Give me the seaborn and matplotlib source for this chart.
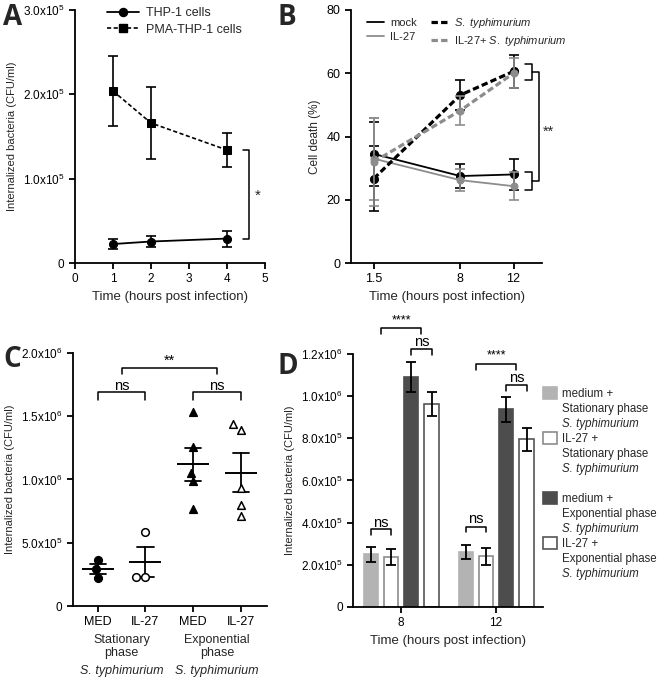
import numpy as np
import pandas as pd
import seaborn as sns
import matplotlib.pyplot as plt
from matplotlib.lines import Line2D
from matplotlib.patches import Patch
from matplotlib.transforms import blended_transform_factory

# ---- panel A: internalized bacteria, THP-1 vs PMA-THP-1
a_time = [1, 2, 4]
a_thp1 = [2.25e4, 2.55e4, 2.9e4]
a_thp1_err = [6e3, 7e3, 9.5e3]
a_pma = [2.04e5, 1.66e5, 1.34e5]
a_pma_err = [4.2e4, 4.3e4, 2.05e4]
a_yticks = [0, 1e5, 2e5, 3e5]
a_yticklabels = ["0", "1.0x10$^5$", "2.0x10$^5$", "3.0x10$^5$"]

# ---- panel B: cell death
b_time = [1.5, 8, 12]
b_mock = [34.5, 27.5, 28.0]
b_mock_err = [10.2, 3.7, 5.0]
b_il27 = [33.0, 26.2, 24.3]
b_il27_err = [13.0, 3.5, 4.5]
b_styph = [26.7, 53.1, 60.6]
b_styph_err = [10.3, 4.7, 5.2]
b_il27_styph = [32.0, 48.2, 60.0]
b_il27_styph_err = [14.0, 4.7, 4.8]

# ---- panel C: single replicates
c_order = ["MED_stat", "IL27_stat", "MED_exp", "IL27_exp"]
c_ticklabels = ["MED", "IL-27", "MED", "IL-27"]
c_med_stat = [3.64e5, 2.90e5, 2.19e5]
c_il27_stat = [5.88e5, 2.32e5, 2.32e5]
c_med_exp = [1.53e6, 1.26e6, 1.055e6, 0.984e6, 0.765e6]
c_il27_exp = [1.438e6, 1.393e6, 0.931e6, 0.80e6, 0.712e6]
c_yticks = [0, 5e5, 1e6, 1.5e6, 2e6]
c_yticklabels = ["0", "5.0x10$^5$", "1.0x10$^6$", "1.5x10$^6$", "2.0x10$^6$"]

# ---- panel D: bars
d_time = ["8", "12"]
d_groups = ["medium + Stationary", "IL-27 + Stationary",
            "medium + Exponential", "IL-27 + Exponential"]
d_med_stat = [2.50e5, 2.61e5]
d_med_stat_err = [3.6e4, 3.5e4]
d_il27_stat = [2.37e5, 2.41e5]
d_il27_stat_err = [3.7e4, 4.0e4]
d_med_exp = [1.092e6, 0.937e6]
d_med_exp_err = [7.0e4, 6.0e4]
d_il27_exp = [0.962e6, 0.796e6]
d_il27_exp_err = [5.8e4, 5.4e4]
d_yticks = [0, 2e5, 4e5, 6e5, 8e5, 1e6, 1.2e6]
d_yticklabels = ["0", "2.0x10$^5$", "4.0x10$^5$", "6.0x10$^5$",
                 "8.0x10$^5$", "1.0x10$^6$", "1.2x10$^6$"]

sns.set_theme(style="ticks")
plt.rcParams["font.family"] = ["Liberation Sans", "DejaVu Sans"]
plt.rcParams["mathtext.fontset"] = "custom"
plt.rcParams["mathtext.rm"] = "Liberation Sans"
plt.rcParams["mathtext.it"] = "Liberation Sans:italic"
plt.rcParams["axes.linewidth"] = 1.3
plt.rcParams["axes.edgecolor"] = "black"
plt.rcParams["xtick.major.width"] = 1.3
plt.rcParams["ytick.major.width"] = 1.3
plt.rcParams["xtick.major.size"] = 4
plt.rcParams["ytick.major.size"] = 4
plt.rcParams["xtick.color"] = "black"
plt.rcParams["ytick.color"] = "black"

GRAY = "#8c8c8c"
ylab = "Internalized bacteria (CFU/ml)"


def bracket(ax, x1, x2, y, h, text, ty, fs=10.5):
    ax.plot([x1, x1, x2, x2], [y - h, y, y, y - h], color="black", lw=1.1,
            clip_on=False)
    ax.text((x1 + x2) / 2, ty, text, ha="center", va="center", fontsize=fs,
            color="black", clip_on=False)


fig = plt.figure(figsize=(6.6, 6.8), dpi=100)
axA = fig.add_axes([0.1136, 0.6132, 0.2879, 0.3721])
axB = fig.add_axes([0.532, 0.6132, 0.2894, 0.3721])
axC = fig.add_axes([0.1106, 0.1088, 0.2939, 0.3722])
axD = fig.add_axes([0.535, 0.1074, 0.2879, 0.3720])

# ================= A
sns.lineplot(x=a_time, y=a_thp1, color="black", marker="o", markersize=5.8,
             markeredgecolor="black", linewidth=1.3, ax=axA)
sns.lineplot(x=a_time, y=a_pma, color="black", marker="s", markersize=5.3,
             markeredgecolor="black", linewidth=1.2,
             linestyle=(0, (2.5, 1.5)), ax=axA)
axA.errorbar(a_time, a_thp1, yerr=a_thp1_err, fmt="none", ecolor="black",
             elinewidth=1.2, capsize=3.5, capthick=1.2)
axA.errorbar(a_time, a_pma, yerr=a_pma_err, fmt="none", ecolor="black",
             elinewidth=1.2, capsize=3.5, capthick=1.2)
axA.set_xlim(0, 5)
axA.set_ylim(0, 3e5)
axA.set_xticks(range(6))
axA.set_yticks(a_yticks, a_yticklabels)
axA.tick_params(labelsize=8.5)
axA.set_xlabel("Time (hours post infection)", fontsize=9.5)
axA.set_ylabel(ylab, fontsize=8)
axA.plot([4.42, 4.58, 4.58, 4.42], [a_pma[2], a_pma[2], a_thp1[2], a_thp1[2]],
         color="black", lw=1.1, clip_on=False)
axA.text(4.8, 0.8e5, "*", ha="center", va="center", fontsize=11)
handlesA = [
    Line2D([], [], color="black", marker="o", markersize=5.8, lw=1.3),
    Line2D([], [], color="black", marker="s", markersize=5.3, lw=1.2,
           linestyle=(0, (2.5, 1.5))),
]
axA.legend(handlesA, ["THP-1 cells", "PMA-THP-1 cells"], loc="upper left",
           bbox_to_anchor=(0.168, 1.01), frameon=False, fontsize=9,
           handlelength=2.6, handletextpad=0.5, labelspacing=0.35,
           borderaxespad=0, borderpad=0)

# ================= B
series_b = [
    (b_mock, b_mock_err, "black", "-", 1.3, 5.8),
    (b_il27, b_il27_err, GRAY, "-", 1.3, 5),
    (b_styph, b_styph_err, "black", (0, (2, 1)), 2.3, 5.8),
    (b_il27_styph, b_il27_styph_err, GRAY, (0, (2, 1)), 2.3, 5),
]
for vals, errs, col, ls, lw, ms in series_b:
    sns.lineplot(x=b_time, y=vals, color=col, linestyle=ls, linewidth=lw,
                 marker="o", markersize=ms, markeredgecolor=col, ax=axB)
    axB.errorbar(b_time, vals, yerr=errs, fmt="none", ecolor=col,
                 elinewidth=1.2, capsize=3.5, capthick=1.2)
axB.set_xlim(-0.2, 14.15)
axB.set_ylim(0, 80)
axB.set_xticks(b_time, ["1.5", "8", "12"])
axB.set_yticks([0, 20, 40, 60, 80])
axB.tick_params(labelsize=9)
axB.set_xlabel("Time (hours post infection)", fontsize=9.5)
axB.set_ylabel("Cell death (%)", fontsize=8.5)
axB.plot([12.88, 13.38, 13.38, 12.88], [62.8, 62.8, 57.9, 57.9],
         color="black", lw=1.1, clip_on=False)
axB.plot([12.88, 13.38, 13.38, 12.88], [28.7, 28.7, 23.2, 23.2],
         color="black", lw=1.1, clip_on=False)
axB.plot([13.38, 13.88, 13.88, 13.38], [60.4, 60.4, 26.0, 26.0],
         color="black", lw=1.1, clip_on=False)
axB.text(14.63, 41.5, "**", ha="center", va="center", fontsize=10.5,
         clip_on=False)
handlesB = [
    Line2D([], [], color="black", lw=1.3),
    Line2D([], [], color=GRAY, lw=1.3),
    Line2D([], [], color="black", lw=2.3, linestyle=(0, (2, 1))),
    Line2D([], [], color=GRAY, lw=2.3, linestyle=(0, (2, 1))),
]
axB.legend(handlesB, ["mock", "IL-27", r"$\it{S.\ typhimurium}$",
                      r"IL-27+ $\it{S.\ typhimurium}$"],
           ncol=2, loc="upper left", bbox_to_anchor=(0.084, 0.975),
           frameon=False, fontsize=8, handlelength=1.5, handletextpad=0.55,
           columnspacing=1.3, labelspacing=0.3, borderaxespad=0, borderpad=0)

# ================= C
c_sets = [
    (c_order[0], c_med_stat, "o", "black"),
    (c_order[1], c_il27_stat, "o", "white"),
    (c_order[2], c_med_exp, "^", "black"),
    (c_order[3], c_il27_exp, "^", "white"),
]
for cat, vals, mk, fc in c_sets:
    sns.swarmplot(x=[cat] * len(vals), y=vals, order=c_order, marker=mk,
                  color=fc, edgecolor="black", linewidth=1.1, size=5.5,
                  ax=axC, zorder=3)
c_x = sum([[cat] * len(vals) for cat, vals, _, _ in c_sets], [])
c_y = sum([list(vals) for _, vals, _, _ in c_sets], [])
sns.pointplot(x=c_x, y=c_y, order=c_order, errorbar="se", color="black",
              marker="_", markersize=23, markeredgewidth=1.4,
              linestyle="none", capsize=0.34, err_kws={"linewidth": 1.3},
              ax=axC)
axC.set_xlim(-0.52, 3.55)
axC.set_ylim(0, 2e6)
axC.set_xticks(range(4), c_ticklabels)
axC.set_yticks(c_yticks, c_yticklabels)
axC.tick_params(axis="x", labelsize=9)
axC.tick_params(axis="y", labelsize=8.5)
axC.set_xlabel("")
axC.set_ylabel(ylab, fontsize=8)
bracket(axC, 0, 1, 1.69e6, 0.06e6, "ns", 1.735e6)
bracket(axC, 2, 3, 1.69e6, 0.06e6, "ns", 1.735e6)
bracket(axC, 0.5, 2.5, 1.88e6, 0.05e6, "**", 1.94e6)
trC = blended_transform_factory(axC.transData, axC.transAxes)
for xc, name in [(0.5, "Stationary\nphase"), (2.5, "Exponential\nphase")]:
    axC.text(xc, -0.11, name, transform=trC, ha="center", va="top",
             fontsize=9, linespacing=1.12)
    axC.text(xc, -0.255, "S. typhimurium", transform=trC, ha="center",
             va="center", fontsize=9, style="italic")

# ================= D
d_df = pd.DataFrame({
    "time": d_time * 4,
    "group": np.repeat(d_groups, 2),
    "cfu": d_med_stat + d_il27_stat + d_med_exp + d_il27_exp,
})
d_face = ["#b3b3b3", "white", "#4d4d4d", "white"]
d_edge = ["#b3b3b3", "#8c8c8c", "#4d4d4d", "#555555"]
d_errs = [d_med_stat_err, d_il27_stat_err, d_med_exp_err, d_il27_exp_err]
sns.barplot(data=d_df, x="time", y="cfu", hue="group", order=d_time,
            hue_order=d_groups, palette=d_face, saturation=1, width=0.855,
            gap=0.3, errorbar=None, legend=False, ax=axD)
centers = []
for cont, ec, errs in zip(axD.containers, d_edge, d_errs):
    xs = []
    for bar in cont:
        bar.set_edgecolor(ec)
        bar.set_linewidth(1.2)
        xs.append(bar.get_x() + bar.get_width() / 2)
    hs = [bar.get_height() for bar in cont]
    axD.errorbar(xs, hs, yerr=errs, fmt="none", ecolor="black",
                 elinewidth=1.3, capsize=3.5, capthick=1.3, zorder=4)
    centers.append(xs)
axD.set_xlim(-0.505, 1.495)
axD.set_ylim(0, 1.2e6)
axD.set_yticks(d_yticks, d_yticklabels)
axD.tick_params(labelsize=8.5)
axD.set_xlabel("Time (hours post infection)", fontsize=9.5)
axD.set_ylabel(ylab, fontsize=8)
# ns brackets (stationary pairs), then ns (exponential pairs), then ****
stat_y = [(0.3685e6, 0.40e6), (0.381e6, 0.416e6)]
exp_y = [(1.224e6, 1.255e6), (1.053e6, 1.084e6)]
star_y = [(1.322e6, 1.36e6), (1.153e6, 1.193e6)]
for i in range(2):
    bracket(axD, centers[0][i], centers[1][i], stat_y[i][0], 0.027e6, "ns",
            stat_y[i][1])
    bracket(axD, centers[2][i], centers[3][i], exp_y[i][0], 0.03e6, "ns",
            exp_y[i][1])
    m1 = (centers[0][i] + centers[1][i]) / 2
    m2 = (centers[2][i] + centers[3][i]) / 2
    bracket(axD, m1, m2, star_y[i][0], 0.028e6, "****", star_y[i][1], fs=9)

blank = Patch(facecolor="none", edgecolor="none")
handlesD, labelsD = [], []
leg_text = [("medium +", "Stationary phase"), ("IL-27 +", "Stationary phase"),
            ("medium +", "Exponential phase"), ("IL-27 +", "Exponential phase")]
for k, (l1, l2) in enumerate(leg_text):
    if k == 2:
        handlesD.append(blank)
        labelsD.append(" ")
    handlesD += [Patch(facecolor=d_face[k], edgecolor=d_edge[k], lw=1.2),
                 blank, blank]
    labelsD += [l1, l2, "S. typhimurium"]
legD = axD.legend(handlesD, labelsD, loc="upper left",
                  bbox_to_anchor=(1.0, 0.868), frameon=False, fontsize=8.3,
                  handlelength=1.2, handleheight=1.2, handletextpad=0.45,
                  labelspacing=0.19, borderaxespad=0, borderpad=0)
for t in legD.get_texts():
    if t.get_text() == "S. typhimurium":
        t.set_style("italic")

for ax in (axA, axB, axC, axD):
    sns.despine(ax=ax)

for x, y, s in [(0.005, 0.995, "A"), (0.42, 0.995, "B"),
                (0.005, 0.492, "C"), (0.42, 0.482, "D")]:
    fig.text(x, y, s, fontsize=20, fontweight="bold", family="Open Sans",
             ha="left", va="top")

fig.savefig("out.png", dpi=100)
